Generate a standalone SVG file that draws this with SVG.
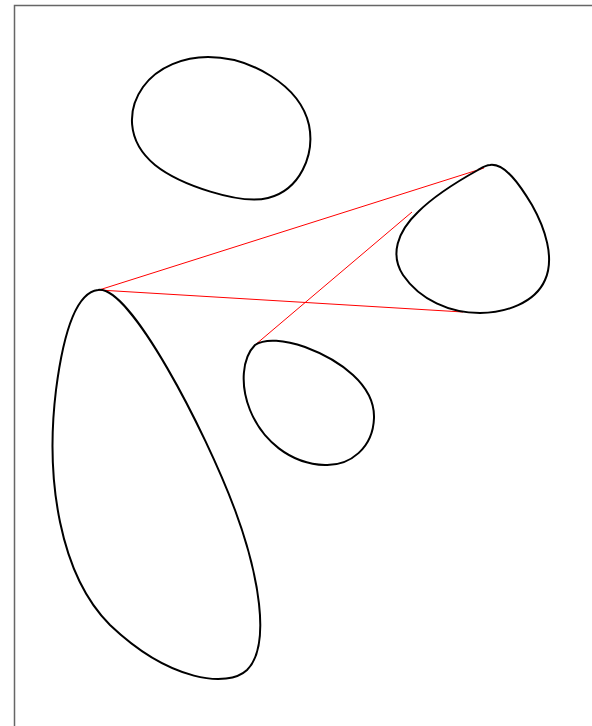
<svg xmlns="http://www.w3.org/2000/svg" width="592" height="726" viewBox="0 0 592 726">
<style>
.frame{fill:none;stroke:#666;stroke-width:1.5}
.blob{fill:none;stroke:#000;stroke-width:2}
.link{stroke:#f00;stroke-width:1;fill:none}
</style>
<rect width="592" height="726" fill="#fff"/>
<rect class="frame" x="14.5" y="5.5" width="620" height="760"/>
<g id="links">
<line class="link" x1="99" y1="290" x2="484" y2="168"/>
<line class="link" x1="99" y1="290" x2="463" y2="312"/>
<line class="link" x1="255" y1="345" x2="412" y2="212"/>
</g>
<g id="blob-top"><path class="blob" d="M208,57 C250,57 300,85 309,125 C315,155 300,190 268,198 C240,205 180,185 155,165 C125,140 128,108 143,87 C158,66 185,57 208,57 Z"/></g>
<g id="blob-right"><path class="blob" d="M490,165 C505,163 520,185 532,205 C545,228 555,258 545,280 C535,303 505,313 480,313 C450,313 420,300 403,275 C390,255 397,232 418,212 C435,195 460,180 478,170 C483,167 486,165 490,165 Z"/></g>
<g id="blob-small"><path class="blob" d="M255,345 C265,338 285,340 305,347 C340,360 375,385 374,418 C373,448 350,466 325,465 C290,464 262,440 250,410 C240,385 242,358 255,345 Z"/></g>
<g id="blob-big"><path class="blob" d="M98,290 C130,285 205,430 235,510 C258,572 272,645 247,670 C228,688 170,682 110,625 C60,575 45,480 56,390 C65,320 80,292 98,290 Z"/></g>
</svg>
